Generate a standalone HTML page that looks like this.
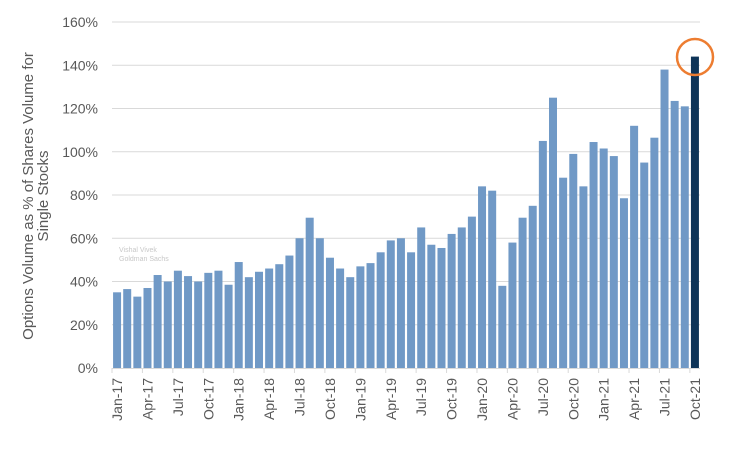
<!DOCTYPE html>
<html><head><meta charset="utf-8"><style>
body{margin:0;background:#fff;}
svg text{font-family:"Liberation Sans",sans-serif;}
</style></head><body>
<svg id="chart" width="749" height="445" viewBox="0 0 749 445" xmlns="http://www.w3.org/2000/svg"></svg>
<script>
const categories=["Jan-17","Feb-17","Mar-17","Apr-17","May-17","Jun-17","Jul-17","Aug-17","Sep-17","Oct-17","Nov-17","Dec-17","Jan-18","Feb-18","Mar-18","Apr-18","May-18","Jun-18","Jul-18","Aug-18","Sep-18","Oct-18","Nov-18","Dec-18","Jan-19","Feb-19","Mar-19","Apr-19","May-19","Jun-19","Jul-19","Aug-19","Sep-19","Oct-19","Nov-19","Dec-19","Jan-20","Feb-20","Mar-20","Apr-20","May-20","Jun-20","Jul-20","Aug-20","Sep-20","Oct-20","Nov-20","Dec-20","Jan-21","Feb-21","Mar-21","Apr-21","May-21","Jun-21","Jul-21","Aug-21","Sep-21","Oct-21"];
const values=[35,36.5,33,37,43,40,45,42.5,40,44,45,38.5,49,42,44.5,46,48,52,60,69.5,60,51,46,42,47,48.5,53.5,59,60,53.5,65,57,55.5,62,65,70,84,82,38,58,69.5,75,105,125,88,99,84,104.5,101.5,98,78.5,112,95,106.5,138,123.5,121,144];
const yTicks=[0,20,40,60,80,100,120,140,160];
const NS="http://www.w3.org/2000/svg";
const svg=document.getElementById('chart');
const x0=112,x1=700,yBase=368,yTop=22,yMax=160;
const step=(x1-x0)/categories.length;
const y=v=>yBase-(v/yMax)*(yBase-yTop);
const xc=i=>x0+step*(i+0.5);
function mk(t,a){const e=document.createElementNS(NS,t);for(const k in a)e.setAttribute(k,a[k]);svg.appendChild(e);return e;}
yTicks.forEach(t=>{
  if(t>0){const g=mk('line',{x1:x0,x2:x1,y1:y(t),y2:y(t),stroke:'#d9d9d9','stroke-width':1});
  
  }
  const l=mk('text',{x:98,y:y(t)+5,'text-anchor':'end','font-size':14,fill:'#595959'});
  l.textContent=t+'%';
  
  
});
const ax=mk('line',{x1:x0,x2:x1,y1:yBase+0.5,y2:yBase+0.5,stroke:'#d9d9d9','stroke-width':1});


values.forEach((v,i)=>{
  const last=i===values.length-1;
  const r=mk('rect',{x:xc(i)-4,y:y(v),width:8,height:yBase-y(v),fill:last?'#0e3458':'#7099c6'});
  
  
});
categories.forEach((c,i)=>{
  if(i%3===0){
    const tk=mk('line',{x1:x0+step*i,x2:x0+step*i,y1:yBase,y2:yBase+5,stroke:'#d9d9d9'});
    
    
    const t=mk('text',{x:0,y:0,'text-anchor':'end','font-size':14,fill:'#595959',transform:`translate(${xc(i)+5},378) rotate(-90)`});
    t.textContent=c;
    
    
  }
});
const yt=mk('text',{x:0,y:0,'text-anchor':'middle','font-size':15,fill:'#595959',transform:'translate(33,196) rotate(-90)'});
yt.textContent='Options Volume as % of Shares Volume for';


const yt2=mk('text',{x:0,y:0,'text-anchor':'middle','font-size':15,fill:'#595959',transform:'translate(48,196) rotate(-90)'});
yt2.textContent='Single Stocks';


const w1=mk('text',{x:119,y:252,'font-size':7,fill:'#c8c8c8'});w1.textContent='Vishal Vivek';


const w2=mk('text',{x:119,y:261,'font-size':7,fill:'#c8c8c8'});w2.textContent='Goldman  Sachs';


const c=mk('circle',{cx:695,cy:57,r:18,fill:'none',stroke:'#ed7d31','stroke-width':2.5});


</script>
</body></html>
